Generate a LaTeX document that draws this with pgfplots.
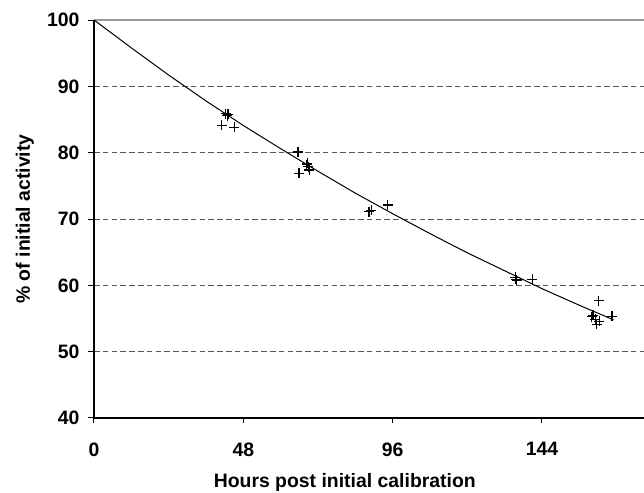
\documentclass[border=0pt]{standalone}
\usepackage{fontspec}
\setmainfont{Liberation Sans}
\usepackage{pgfplots}
\pgfplotsset{compat=1.18}
\usetikzlibrary{calc}

\pgfplotstableread{
x y
42.3 85.9
42.8 85.6
43.1 85.8
41.0 84.1
45.1 83.8
65.6 80.1
68.4 78.2
68.9 77.9
68.6 78.4
65.9 76.9
69.2 77.4
88.4 71.1
89.2 71.3
94.4 72.1
135.4 61.2
135.9 60.8
135.6 60.9
140.9 60.9
162.2 57.7
160.0 55.3
161.1 54.9
162.4 54.6
161.6 54.1
160.4 55.5
166.5 55.35
}\measured

\pgfplotstableread{
x y
0 100
12 95.8
24 91.7
36 87.8
48 84.1
60 80.6
72 77.2
84 73.9
96 70.8
108 67.8
120 64.9
132 62.2
144 59.5
156 57.0
167 54.8
}\trend

\begin{document}
\begin{tikzpicture}[font=\fontsize{9.7}{11}\selectfont\bfseries]
\begin{axis}[
    name=ax,
    scale only axis,
    width=275pt, height=199pt,
    xmin=0, xmax=176.8,
    ymin=40, ymax=100,
    axis x line*=bottom,
    axis y line*=left,
    axis line style={line width=0.65pt, black},
    xtick={0,48,96,144},
    ytick={40,50,...,90},
    extra y ticks={100},
    extra y tick style={major grid style={solid, gray!80, line width=0.6pt}},
    tick align=outside,
    major tick length=2.75pt,
    tick style={line width=0.5pt, black},
    ymajorgrids,
    major grid style={dash pattern=on 2.8pt off 1.6pt, gray!70!black, line width=0.5pt},
    /pgf/number format/assume math mode=true,
    xticklabel style={yshift=-6pt},
    yticklabel style={xshift=-1pt},
    xlabel={Hours post initial calibration},
    ylabel={\% of initial activity},
    xlabel style={at={(axis description cs:0.456,-0.162)}, anchor=center},
    ylabel style={at={(axis description cs:-0.1255,0.5)}, anchor=center, rotate=0},
    clip=false,
]
\addplot[black, line width=0.5pt, no markers] table {\trend};
\addplot[only marks, mark=+, mark size=2.5pt, black, mark options={line width=0.6pt}] table {\measured};
\end{axis}
\pgfresetboundingbox
\useasboundingbox ($(ax.south west)+(-47pt,-37.5pt)$) rectangle ($(ax.north east)+(0pt,10pt)$);
\end{tikzpicture}
\end{document}
